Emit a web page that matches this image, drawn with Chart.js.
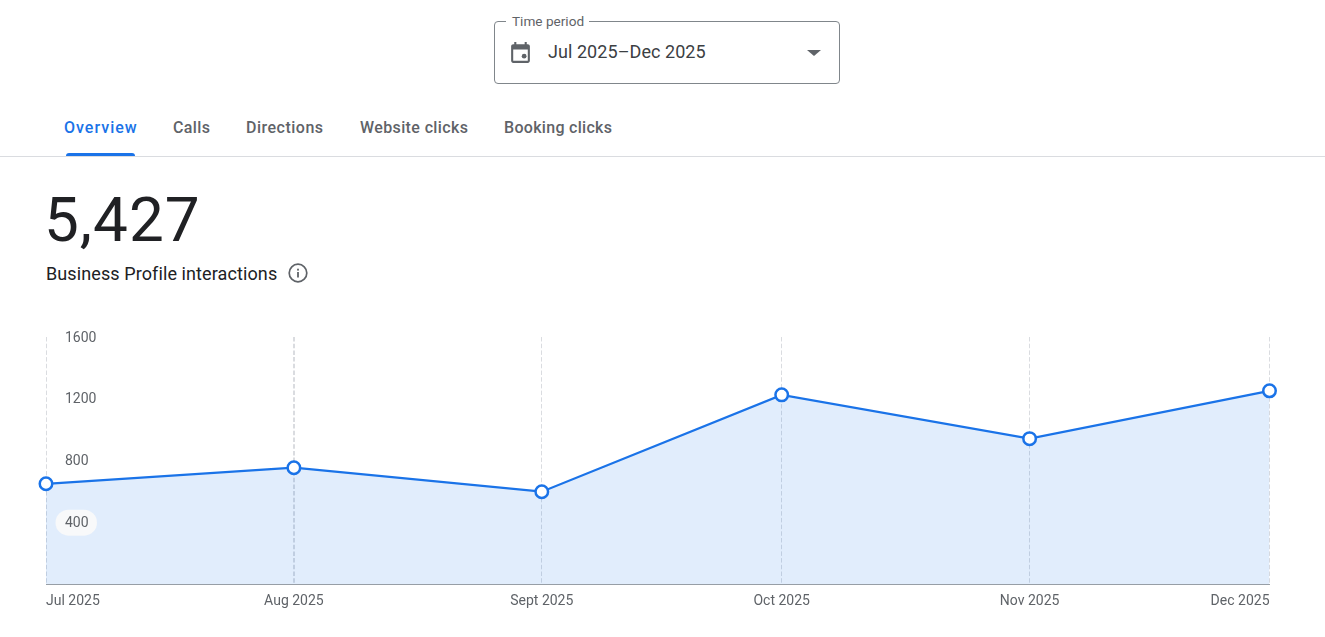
<!DOCTYPE html>
<html lang="en">
<head>
  <meta charset="UTF-8">
  <title>Business Profile performance</title>
  <script src="https://cdn.jsdelivr.net/npm/chart.js"></script>
  <style>
    html, body { margin: 0; height: 100%; overflow: hidden; background: #fff; font-family: Roboto, Arial, sans-serif; }
    .page { position: relative; width: 1325px; height: 637px; }
    .page > * { position: absolute; }

    /* time period picker */
    .picker { left: 494px; top: 21px; width: 344px; height: 61px; border: 1px solid #80868b; border-radius: 4px; }
    .picker-label { left: 506px; top: 13px; padding: 0 5px 0 6px; background: #fff; font-size: 13.600px; line-height: 16px; color: #5f6368; }
    .picker-value { left: 548px; top: 41px; font-size: 18px; line-height: 22px; letter-spacing: 0.060px; color: #3c4043; }
    .picker-icon { left: 508px; top: 40px; }
    .picker-arrow { left: 807px; top: 50px; width: 0; height: 0; border-left: 7px solid transparent; border-right: 7px solid transparent; border-top: 6px solid #5f6368; }

    /* tabs */
    .tab { top: 118px; font-size: 16px; line-height: 20px; font-weight: 500; letter-spacing: 0.380px; color: #5f6368; white-space: nowrap; }
    .tab.active { color: #1a73e8; letter-spacing: 1px; }
    .tab-ink { left: 66px; top: 153px; width: 69px; height: 3px; background: #1a73e8; border-radius: 3px 3px 0 0; }
    .divider { left: 0; top: 156px; width: 1325px; height: 1px; background: #dadce0; }

    /* headline number */
    .total { left: 44px; top: 182px; font-size: 62px; line-height: 76px; letter-spacing: 1px; color: #202124; }
    .caption { left: 46px; top: 262px; font-size: 18px; line-height: 23px; letter-spacing: 0.100px; color: #202124; }
    .info { left: 287px; top: 262px; }

    #chart { left: 0; top: 320px; }
  </style>
</head>
<body>
  <div class="page">
    <div class="picker"></div>
    <div class="picker-label">Time period</div>
    <svg class="picker-icon" width="25" height="25" viewBox="0 0 24 24" fill="#5f6368">
      <path d="M19 4h-1V2h-2v2H8V2H6v2H5c-1.1 0-2 .9-2 2v14c0 1.1.9 2 2 2h14c1.1 0 2-.9 2-2V6c0-1.100-.9-2-2-2zm0 16H5V9h14v11z"/>
      <circle cx="15.500" cy="15.500" r="2.300"/>
    </svg>
    <div class="picker-value">Jul 2025–Dec 2025</div>
    <div class="picker-arrow"></div>

    <div class="tab active" style="left:64px">Overview</div>
    <div class="tab" style="left:173px">Calls</div>
    <div class="tab" style="left:246px;letter-spacing:0.500px">Directions</div>
    <div class="tab" style="left:360px">Website clicks</div>
    <div class="tab" style="left:504px;letter-spacing:0.300px">Booking clicks</div>
    <div class="tab-ink"></div>
    <div class="divider"></div>

    <div class="total">5,427</div>
    <div class="caption">Business Profile interactions</div>
    <svg class="info" width="22" height="22" viewBox="0 0 22 22" fill="none">
      <circle cx="11" cy="11" r="8.800" stroke="#5f6368" stroke-width="1.700"/>
      <rect x="10.100" y="10" width="1.800" height="5.500" fill="#5f6368"/>
      <rect x="10.100" y="6.700" width="1.800" height="1.900" fill="#5f6368"/>
    </svg>

    <canvas id="chart" width="1325" height="300"></canvas>
  </div>

  <script>
    const months = ['Jul 2025', 'Aug 2025', 'Sept 2025', 'Oct 2025', 'Nov 2025', 'Dec 2025'];
    // days since 1 Jul, the x axis is a real time axis so the months are not evenly spaced
    const dayOffsets = [0, 31, 62, 92, 123, 153];
    const interactions = [651, 755, 600, 1226, 943, 1252];
    const yTicks = [400, 800, 1200, 1600];

    const BLUE = '#1a73e8';
    const tickFont = { family: 'Roboto', size: 14 };

    // Chart.js has no per-tick alignment: pin the end labels to the plot edges,
    // and drop the y labels a pixel
    const labelTweaks = {
      id: 'labelTweaks',
      beforeDraw(chart) {
        const xItems = chart.scales.x.getLabelItems(chart.chartArea);
        xItems[0].options.textAlign = 'left';
        xItems[xItems.length - 1].options.textAlign = 'right';
        if (!chart.$yNudged) {
          chart.scales.y.getLabelItems(chart.chartArea).forEach(item => { item.options.translation[1] += 1; });
          chart.$yNudged = true;
        }
      }
    };

    // the pill behind the y label that sits on the filled area
    const labelPill = {
      id: 'labelPill',
      afterDatasetsDraw(chart) {
        const { ctx, scales } = chart;
        const y = scales.y.getPixelForValue(400);
        ctx.save();
        ctx.fillStyle = '#f8f9fa';
        ctx.beginPath();
        ctx.roundRect(55.500, y - 13, 41.500, 26, 13);
        ctx.fill();
        ctx.restore();
      }
    };

    new Chart(document.getElementById('chart'), {
      type: 'line',
      data: {
        datasets: [{
          data: dayOffsets.map((day, i) => ({ x: day, y: interactions[i] })),
          borderColor: BLUE,
          borderWidth: 2.250,
          backgroundColor: 'rgba(26, 115, 232, 0.13)',
          fill: 'origin',
          tension: 0,
          clip: false,
          pointRadius: 6.250,
          pointBorderWidth: 2.500,
          pointBackgroundColor: '#fff',
          pointBorderColor: BLUE
        }]
      },
      options: {
        responsive: false,
        animation: false,
        events: [],
        layout: { padding: { left: 46, right: 55.500, top: 17, bottom: 0 } },
        plugins: { legend: { display: false }, tooltip: { enabled: false } },
        scales: {
          x: {
            type: 'linear',
            min: dayOffsets[0],
            max: dayOffsets[dayOffsets.length - 1],
            afterBuildTicks: scale => { scale.ticks = dayOffsets.map(value => ({ value })); },
            afterFit: scale => { scale.height = 35.500; scale.paddingLeft = 0; scale.paddingRight = 0; },
            grid: {
              color: '#dadce0',
              // the August line straddles two pixel columns
              lineWidth: ctx => (ctx.index === 1 ? 2 : 1),
              drawTicks: false
            },
            border: { display: true, color: '#9aa0a6', width: 1, dash: [4.500, 2.200] },
            ticks: {
              autoSkip: false,
              maxRotation: 0,
              padding: 8.500,
              color: '#5f6368',
              font: tickFont,
              callback: (value, index) => months[index]
            }
          },
          y: {
            min: 0,
            max: 1600,
            afterBuildTicks: scale => { scale.ticks = yTicks.map(value => ({ value })); },
            afterFit: scale => { scale.width = 0; scale.paddingTop = 0; scale.paddingBottom = 0; },
            grid: { display: false },
            border: { display: false },
            ticks: {
              mirror: true,
              padding: 19,
              z: 1,
              color: '#5f6368',
              font: tickFont,
              callback: value => String(value)
            }
          }
        }
      },
      plugins: [labelTweaks, labelPill]
    });
  </script>
</body>
</html>
